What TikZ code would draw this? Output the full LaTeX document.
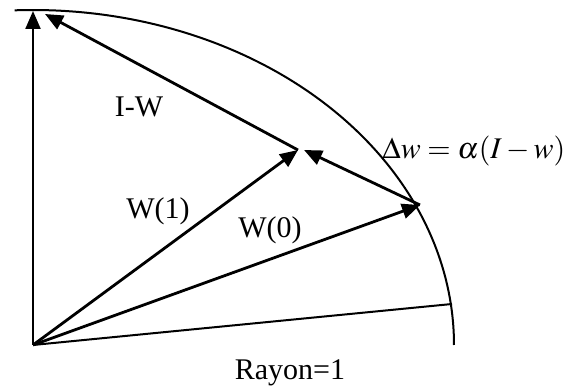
\documentclass[tikz,border=0pt]{standalone}
\usepackage{mathptmx}
\usepackage{fontspec}
\setmainfont{Liberation Serif}
\usetikzlibrary{arrows.meta}

\begin{document}
\begin{tikzpicture}[
        x=0.5pt, y=0.5pt,
        vec/.style={-{Triangle[length=9pt, width=7.5pt]}, line width=1.4pt},
        axis/.style={line width=1pt},
        lbl/.style={font=\fontsize{15}{17}\selectfont, inner sep=0pt},
    ]
    \useasboundingbox (0,0) rectangle (569,391);

    % Points
    \coordinate (O) at (33,46);
    \coordinate (I) at (33,380);
    \coordinate (iw) at (45,377);
    \coordinate (w1) at (298,241);
    \coordinate (dw) at (304,241);
    \coordinate (w0) at (420,186);
    \coordinate (r1) at (452,87);

    % Unit circle
    \draw[axis] (O) ++(92.5:421 and 335) arc[start angle=92.5, end angle=0, x radius=421, y radius=335];
    \draw[axis] (O) -- (r1);

    % Vectors
    \draw[vec, line width=1.1pt] (O) -- (I);
    \draw[vec] (O) -- (w0);
    \draw[vec] (O) -- (w1);
    \draw[vec] (w0) -- (dw);
    \draw[vec] (w1) -- (iw);

    % Labels
    \node[lbl] (lIW) at (139,284) {I-W};
    \node[lbl] (lW1) at (158,180) {W(1)};
    \node[lbl] (lW0) at (270,161) {W(0)};
    \node[lbl, anchor=west] (lDw) at (382,240) {$\Delta w = \alpha(I - w)$};
    \node[lbl] (lR) at (290,18) {Rayon=1};
\end{tikzpicture}
\end{document}
